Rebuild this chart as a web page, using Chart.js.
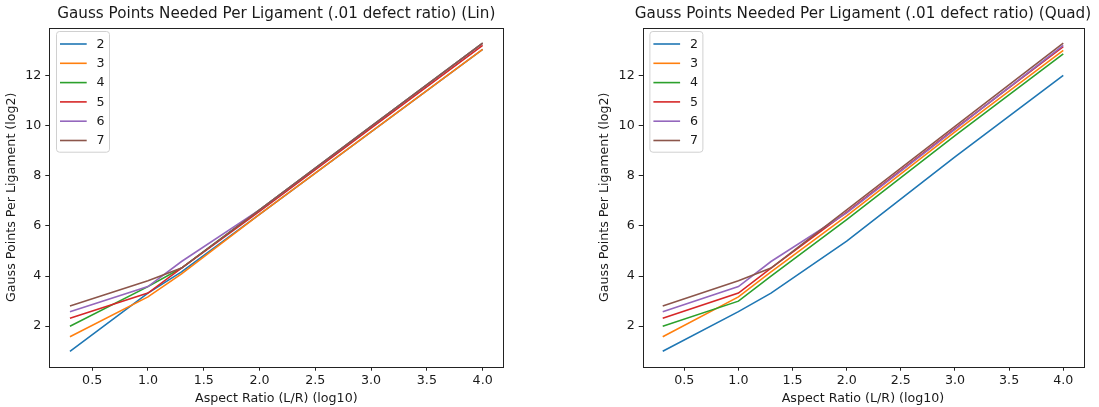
<!DOCTYPE html>
<html>
<head>
<meta charset="utf-8">
<script src="https://cdn.jsdelivr.net/npm/chart.js@4.4.0/dist/chart.umd.min.js"></script>
<style>
  body { margin: 0; background: #fff; }
  #wrap { position: relative; width: 1099px; height: 407px; overflow: hidden; }
  canvas { position: absolute; top: 0; }
  #lin { left: 0; }
  #quad { left: 560px; }
</style>
</head>
<body>
<div id="wrap">
  <canvas id="lin" width="540" height="407"></canvas>
  <canvas id="quad" width="539" height="407"></canvas>
</div>
<script>
// aspect ratio L/R, log10
const ASPECT = [0.301, 1, 1.301, 2, 3, 4];
const ORDERS = ['2', '3', '4', '5', '6', '7'];
const COLORS = ['#1f77b4', '#ff7f0e', '#2ca02c', '#d62728', '#9467bd', '#8c564b'];

// gauss points per ligament (log2), linear elements
const LIN_2 = [1.00, 3.32, 4.17, 6.46, 9.75, 13.04];
const LIN_3 = [1.58, 3.17, 4.09, 6.46, 9.75, 13.04];
const LIN_4 = [2.00, 3.58, 4.32, 6.64, 9.97, 13.29];
const LIN_5 = [2.32, 3.32, 4.32, 6.58, 9.90, 13.20];
const LIN_6 = [2.58, 3.58, 4.58, 6.64, 9.97, 13.29];
const LIN_7 = [2.81, 3.81, 4.32, 6.64, 9.97, 13.29];

// quadratic elements
const QUAD_2 = [1.00, 2.58, 3.32, 5.39, 8.75, 12.00];
const QUAD_3 = [1.58, 3.17, 4.17, 6.40, 9.75, 13.00];
const QUAD_4 = [2.00, 3.00, 4.00, 6.25, 9.60, 12.86];
const QUAD_5 = [2.32, 3.32, 4.32, 6.55, 9.88, 13.15];
const QUAD_6 = [2.58, 3.58, 4.58, 6.52, 9.85, 13.20];
const QUAD_7 = [2.81, 3.81, 4.32, 6.64, 9.97, 13.29];

const X_TICKS = [0.5, 1.0, 1.5, 2.0, 2.5, 3.0, 3.5, 4.0];
const Y_TICKS = [2, 4, 6, 8, 10, 12];

const FONT = 'DejaVu Sans';
const TXT = '#1a1a1a';
const SIZE = 12.65;

// matplotlib-style 5% autoscale margins
function limits(vals) {
  const lo = Math.min(...vals), hi = Math.max(...vals);
  const pad = (hi - lo) * 0.05;
  return [lo - pad, hi + pad];
}

// frame, title and legend drawn on top of the plot area
const axesDeco = {
  id: 'axesDeco',
  afterDraw(chart, args, opts) {
    const { ctx, chartArea: a } = chart;
    ctx.save();
    ctx.strokeStyle = '#222';
    ctx.lineWidth = 1;
    ctx.strokeRect(Math.round(a.left) + 0.5, Math.round(a.top) + 0.5,
      Math.round(a.right - a.left), Math.round(a.bottom - a.top));

    ctx.fillStyle = TXT;
    ctx.font = '15.2px ' + FONT;
    ctx.textAlign = 'center';
    ctx.textBaseline = 'middle';
    ctx.fillText(opts.title, (a.left + a.right) / 2, 14.5);

    // legend box
    const bx = a.left + 6.7, by = a.top + 3.3, bw = 53, bh = 120.7;
    ctx.beginPath();
    ctx.roundRect(bx + 0.5, by + 0.5, bw, bh, 3);
    ctx.fillStyle = 'rgba(255,255,255,0.8)';
    ctx.fill();
    ctx.strokeStyle = '#d0d0d0';
    ctx.stroke();
    ctx.font = SIZE + 'px ' + FONT;
    ctx.textAlign = 'left';
    chart.data.datasets.forEach((ds, i) => {
      const y = by + 13 + i * 19.3;
      ctx.strokeStyle = ds.borderColor;
      ctx.lineWidth = 1.6;
      ctx.beginPath();
      ctx.moveTo(bx + 4, y);
      ctx.lineTo(bx + 30.7, y);
      ctx.stroke();
      ctx.fillStyle = TXT;
      ctx.fillText(ds.label, bx + 40.5, y + 0.5);
    });
    ctx.restore();
  }
};

function makeChart(id, title, series, pad) {
  const allY = series.flat();
  const [xMin, xMax] = limits(ASPECT);
  const [yMin, yMax] = limits(allY);
  return new Chart(document.getElementById(id), {
    type: 'line',
    data: {
      datasets: series.map((ys, i) => ({
        label: ORDERS[i],
        data: ASPECT.map((x, j) => ({ x: x, y: ys[j] })),
        borderColor: COLORS[i],
        borderWidth: 1.6,
        pointRadius: 0,
        tension: 0,
        fill: false,
        order: series.length - i
      }))
    },
    options: {
      responsive: false,
      animation: false,
      events: [],
      layout: { padding: pad },
      plugins: {
        legend: { display: false },
        tooltip: { enabled: false },
        axesDeco: { title: title }
      },
      scales: {
        x: {
          type: 'linear',
          min: xMin,
          max: xMax,
          afterBuildTicks: s => { s.ticks = X_TICKS.map(v => ({ value: v })); },
          afterFit: s => { s.height = 40.3; },
          border: { display: false },
          grid: { drawOnChartArea: false, drawTicks: true, tickLength: 4, color: '#222' },
          ticks: {
            color: TXT, padding: 2, maxRotation: 0,
            font: { family: FONT, size: SIZE },
            callback: v => v.toFixed(1)
          },
          title: {
            display: true, text: 'Aspect Ratio (L/R) (log10)', color: TXT,
            font: { family: FONT, size: SIZE }, padding: { top: 0, bottom: 1.1 }
          }
        },
        y: {
          type: 'linear',
          min: yMin,
          max: yMax,
          afterBuildTicks: s => { s.ticks = Y_TICKS.map(v => ({ value: v })); },
          afterFit: s => { s.width = 49.3; },
          border: { display: false },
          grid: { drawOnChartArea: false, drawTicks: true, tickLength: 4, color: '#222' },
          ticks: {
            color: TXT, padding: 4,
            font: { family: FONT, size: SIZE },
            callback: v => String(v)
          },
          title: {
            display: true, text: 'Gauss Points Per Ligament (log2)', color: TXT,
            font: { family: FONT, size: SIZE }, padding: { top: 4, bottom: 0 }
          }
        }
      }
    },
    plugins: [axesDeco]
  });
}

makeChart('lin', 'Gauss Points Needed Per Ligament (.01 defect ratio) (Lin)',
  [LIN_2, LIN_3, LIN_4, LIN_5, LIN_6, LIN_7],
  { left: 0, right: 36.7, top: 27.7, bottom: 0 });

makeChart('quad', 'Gauss Points Needed Per Ligament (.01 defect ratio) (Quad)',
  [QUAD_2, QUAD_3, QUAD_4, QUAD_5, QUAD_6, QUAD_7],
  { left: 33.4, right: 15.7, top: 27.7, bottom: 0 });
</script>
</body>
</html>
